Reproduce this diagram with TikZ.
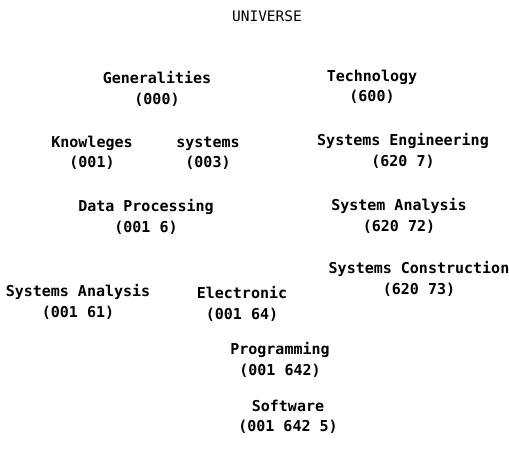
\documentclass[tikz,border=0pt]{standalone}
\usepackage{fontspec}
\usepackage{tikz}
\setmonofont{DejaVu Sans Mono}

\begin{document}
\begin{tikzpicture}[x=1pt, y=-1pt,
  entry/.style={align=center, inner sep=0pt, font=\ttfamily\bfseries\fontsize{15}{20.5}\selectfont},
  top/.style={inner sep=0pt, font=\ttfamily\fontsize{14.5}{17}\selectfont}]
\useasboundingbox (0,0) rectangle (509,453);
\node[top] (universe) at (267,16) {UNIVERSE};
\node[entry] (general) at (157,89) {Generalities\\(000)};
\node[entry] (techno) at (372,87) {Technology\\(600)};
\node[entry] (knowl) at (92,153) {Knowleges\\(001)};
\node[entry] (systems) at (208,153) {systems\\(003)};
\node[entry] (syseng) at (403,151) {Systems Engineering\\(620 7)};
\node[entry] (dataproc) at (146,217) {Data Processing\\(001 6)};
\node[entry] (sysanal) at (399,216) {System Analysis\\(620 72)};
\node[entry] (syscons) at (419,279) {Systems Construction\\(620 73)};
\node[entry] (sysanal2) at (78,302) {Systems Analysis\\(001 61)};
\node[entry] (electr) at (242,304) {Electronic\\(001 64)};
\node[entry] (program) at (280,360) {Programming\\(001 642)};
\node[entry] (software) at (288,417) {Software\\(001 642 5)};
\end{tikzpicture}
\end{document}
